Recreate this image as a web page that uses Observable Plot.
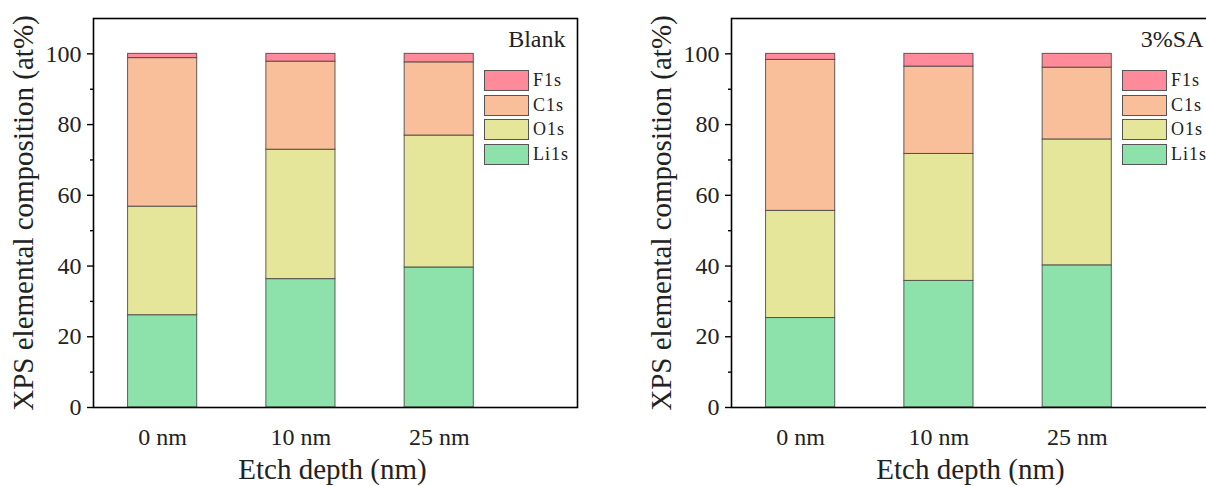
<!DOCTYPE html>
<html><head><meta charset="utf-8">
<script src="https://cdn.jsdelivr.net/npm/d3@7"></script>
<script src="https://cdn.jsdelivr.net/npm/@observablehq/plot@0.6"></script>
<style>
body{margin:0;background:#fff;}
#wrap{position:relative;width:1206px;height:486px;overflow:hidden;background:#fff;font-family:"Liberation Serif","Times New Roman",serif;}
#wrap svg text{font-family:"Liberation Serif","Times New Roman",serif !important;}
.panel{position:absolute;top:0;width:603px;height:486px;}
.panel svg{max-width:none !important;}
.legend{position:absolute;}
.item{display:flex;align-items:center;height:21px;margin-bottom:3.7px;}
.sw{width:45px;height:21px;border:1px solid #555;box-sizing:border-box;}
.lab{margin-left:4px;font-size:18px;letter-spacing:1px;color:#222;line-height:21px;white-space:nowrap;}
</style></head>
<body><div id="wrap"></div>
<script>
const depths = ["0 nm", "10 nm", "25 nm"];
const elements = ["Li1s", "O1s", "C1s", "F1s"];
const colors = ["#8DE2AB", "#E6E69A", "#F9BE9A", "#FE8A9A"];
const blankLi = [26.1, 36.3, 39.6];
const blankO  = [30.7, 36.6, 37.3];
const blankC  = [42.0, 24.9, 20.7];
const blankF  = [1.2, 2.2, 2.4];
const saLi = [25.3, 35.8, 40.2];
const saO  = [30.3, 35.9, 35.6];
const saC  = [42.7, 24.7, 20.3];
const saF  = [1.7, 3.6, 3.9];
const yTicks = [0, 20, 40, 60, 80, 100];
const yMinorTicks = [10, 30, 50, 70, 90];
const xLabel = "Etch depth (nm)";
const yLabel = "XPS elemental composition (at%)";
const panels = [
  {title: "Blank", series: [blankLi, blankO, blankC, blankF], left: 0},
  {title: "3%SA", series: [saLi, saO, saC, saF], left: 638}
];

const wrap = document.getElementById("wrap");
for (const p of panels) {
  const rows = [];
  elements.forEach((el, k) => p.series[k].forEach((v, i) => rows.push({pos: i + 1, depth: depths[i], element: el, value: v})));
  const chart = Plot.plot({
    width: 603, height: 486,
    marginLeft: 93, marginRight: 26, marginTop: 18, marginBottom: 79,
    style: {fontFamily: '"Liberation Serif", "Times New Roman", serif', background: "transparent", color: "#222"},
    x: {domain: [0.5, 4]},
    y: {domain: [0, 110]},
    color: {domain: elements, range: colors},
    marks: [
      Plot.rectY(rows, Plot.stackY({x: "pos", x1: d => d.pos - 0.25, x2: d => d.pos + 0.25, y: "value", fill: "element", order: elements, stroke: "#444", strokeWidth: 1, strokeOpacity: 0.85})),
      Plot.frame({stroke: "#000", strokeWidth: 1.6}),
      Plot.axisY({ticks: yTicks, tickSize: 6, tickPadding: 6, fontSize: 24, label: null, stroke: "#000", strokeWidth: 1.4}),
      Plot.axisY({ticks: yMinorTicks, tickSize: 3, tickFormat: () => "", label: null, stroke: "#000", strokeWidth: 1.4}),
      Plot.axisX({ticks: [1, 2, 3], tickFormat: i => depths[i - 1], tickSize: 0, tickPadding: 20, fontSize: 24, label: null}),
      Plot.text([yLabel], {frameAnchor: "left", rotate: -90, dx: -81, textAnchor: "middle", lineAnchor: "top", fontSize: 29, fill: "#222"}),
      Plot.text([xLabel], {frameAnchor: "bottom", dy: 62, dx: -3, textAnchor: "middle", lineAnchor: "middle", fontSize: 29, fill: "#222"}),
      Plot.text([p.title], {frameAnchor: "top-right", dx: -12, dy: 21, textAnchor: "end", lineAnchor: "middle", fontSize: 24, fill: "#222"})
    ]
  });
  chart.style.maxWidth = "none";
  const holder = document.createElement("div");
  holder.className = "panel";
  holder.style.left = p.left + "px";
  holder.appendChild(chart);
  wrap.appendChild(holder);

  const lg = document.createElement("div");
  lg.className = "legend";
  lg.style.left = (p.left + 484) + "px";
  lg.style.top = "70px";
  for (let k = elements.length - 1; k >= 0; k--) {
    const it = document.createElement("div");
    it.className = "item";
    const sw = document.createElement("div");
    sw.className = "sw";
    sw.style.background = colors[k];
    const lb = document.createElement("span");
    lb.className = "lab";
    lb.textContent = elements[k];
    it.appendChild(sw); it.appendChild(lb);
    lg.appendChild(it);
  }
  wrap.appendChild(lg);
}
</script>
</body></html>
